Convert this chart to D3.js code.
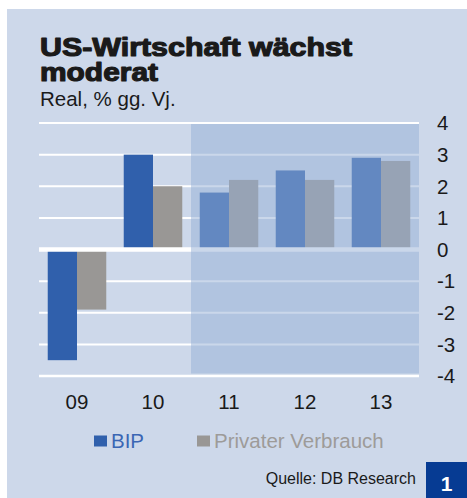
<!DOCTYPE html>
<html>
<head>
<meta charset="utf-8">
<script src="https://cdn.jsdelivr.net/npm/d3@7"></script>
<style>
  html, body { margin: 0; padding: 0; background: #ffffff; }
  svg { display: block; }
  text { font-family: "Liberation Sans", Arial, Helvetica, sans-serif; }
</style>
</head>
<body>
<svg id="chart" width="467" height="498"></svg>
<script>
// ---- Data ----
const categories = ["09", "10", "11", "12", "13"];
const bipValues = [-3.5, 3.0, 1.8, 2.5, 2.9];
const verbrauchValues = [-1.9, 2.0, 2.2, 2.2, 2.8];
const seriesNames = ["BIP", "Privater Verbrauch"];
const yTicks = [4, 3, 2, 1, 0, -1, -2, -3, -4];
const forecastStart = "11";
const titleLines = ["US-Wirtschaft wächst", "moderat"];
const subtitle = "Real, % gg. Vj.";
const sourceText = "Quelle: DB Research";
const chartNumber = "1";

// ---- Styles ----
const colBG = "#cdd8ea";
const colBIP = "#3060ac";
const colPV = "#999795";
const colShade = "#96afd5";

const svg = d3.select("#chart");

// background panel
svg.append("rect").attr("x", 7).attr("y", 9).attr("width", 460).attr("height", 489).attr("fill", colBG);

// scales
const x0 = d3.scaleBand().domain(categories).range([39, 419]).paddingInner(0.23).paddingOuter(0.115);
const x1 = d3.scaleBand().domain(seriesNames).range([0, x0.bandwidth()]);
const y = d3.scaleLinear().domain([-4, 4]).range([376, 123]);

const data = categories.map((c, i) => ({ cat: c, vals: [bipValues[i], verbrauchValues[i]] }));

// gridlines (non-zero)
svg.append("g").selectAll("line").data(yTicks.filter(t => t !== 0)).join("line")
  .attr("x1", 39).attr("x2", 419)
  .attr("y1", d => y(d)).attr("y2", d => y(d))
  .attr("stroke", "#ffffff").attr("stroke-width", d => d === -4 ? 2.5 : 2);

// bars
const groups = svg.append("g").selectAll("g").data(data).join("g")
  .attr("transform", d => `translate(${x0(d.cat)},0)`);
groups.selectAll("rect").data(d => d.vals.map((v, j) => ({ name: seriesNames[j], v }))).join("rect")
  .attr("x", d => x1(d.name))
  .attr("width", x1.bandwidth())
  .attr("y", d => y(Math.max(0, d.v)))
  .attr("height", d => Math.abs(y(d.v) - y(0)))
  .attr("fill", d => d.name === "BIP" ? colBIP : colPV);

// zero line
svg.append("line").attr("x1", 39).attr("x2", 419).attr("y1", y(0)).attr("y2", y(0))
  .attr("stroke", "#ffffff").attr("stroke-width", 4.5);

// forecast shading
const step = x0.step();
const shadeX = x0(forecastStart) - x0.paddingInner() * step / 2;
svg.append("rect")
  .attr("x", shadeX).attr("y", y(4) + 1)
  .attr("width", 419 - shadeX).attr("height", (y(-4) - 2.5) - (y(4) + 1))
  .attr("fill", colShade).attr("opacity", 0.5);

// y axis labels (right)
svg.append("g").selectAll("text").data(yTicks).join("text")
  .attr("x", 437).attr("y", d => y(d) + 7.3)
  .attr("font-size", 20.5).attr("fill", "#1a1a1a")
  .text(d => d);

// x axis labels
svg.append("g").selectAll("text").data(categories).join("text")
  .attr("x", d => x0(d) + x0.bandwidth() / 2).attr("y", 409)
  .attr("text-anchor", "middle").attr("font-size", 20.5).attr("fill", "#1a1a1a")
  .text(d => d);

// title
const titleWidths = [312, 118];
const titleBase = [56, 81];
titleLines.forEach((t, i) => {
  svg.append("text").attr("x", 40).attr("y", titleBase[i])
    .attr("font-size", 26.5).attr("font-weight", "bold")
    .attr("fill", "#1a1a1a").attr("stroke", "#1a1a1a").attr("stroke-width", 1.2)
    .attr("stroke-linejoin", "round")
    .attr("textLength", titleWidths[i]).attr("lengthAdjust", "spacingAndGlyphs")
    .text(t);
});
svg.append("text").attr("x", 40).attr("y", 106).attr("font-size", 20.5).attr("fill", "#1a1a1a").text(subtitle);

// legend
const legend = [
  { name: seriesNames[0], color: colBIP, text: "#3a66b4", x: 94 },
  { name: seriesNames[1], color: colPV, text: "#9d9b99", x: 197 }
];
legend.forEach(l => {
  svg.append("rect").attr("x", l.x).attr("y", 435.5).attr("width", 13).attr("height", 11).attr("fill", l.color);
  svg.append("text").attr("x", l.x + 17).attr("y", 447.5).attr("font-size", 20.5).attr("fill", l.text).text(l.name);
});

// source
svg.append("text").attr("x", 416).attr("y", 484).attr("text-anchor", "end")
  .attr("font-size", 16).attr("fill", "#1a1a1a").text(sourceText);

// number box
svg.append("rect").attr("x", 426).attr("y", 462).attr("width", 41).attr("height", 36).attr("fill", "#063b93");
svg.append("text").attr("x", 446.5).attr("y", 490.5).attr("text-anchor", "middle")
  .attr("font-size", 21).attr("font-weight", "bold").attr("fill", "#ffffff").text(chartNumber);
</script>
</body>
</html>
